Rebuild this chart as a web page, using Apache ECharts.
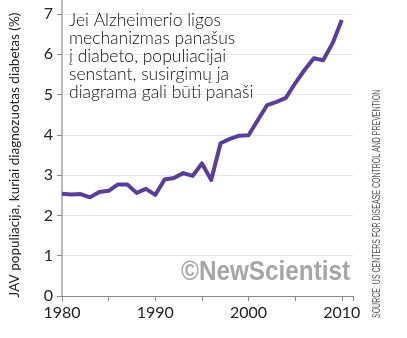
<!DOCTYPE html>
<html><head><meta charset="utf-8">
<script src="https://cdn.jsdelivr.net/npm/echarts@6/dist/echarts.min.js"></script>
<style>html,body{margin:0;padding:0;background:#fff}#c{width:407px;height:338px}</style>
</head><body><div id="c"></div>
<script>
const years = [1980,1981,1982,1983,1984,1985,1986,1987,1988,1989,1990,1991,1992,1993,1994,1995,1996,1997,1998,1999,2000,2001,2002,2003,2004,2005,2006,2007,2008,2009,2010];
const diabetesPct = [2.54,2.52,2.53,2.45,2.58,2.61,2.77,2.77,2.56,2.66,2.51,2.89,2.93,3.05,2.98,3.29,2.88,3.79,3.90,3.98,3.99,4.37,4.74,4.82,4.92,5.28,5.61,5.90,5.85,6.27,6.85];
const xTickLabels = [1980,1990,2000,2010];
const yTickLabels = [0,1,2,3,4,5,6,7];
const annotationLines = ['Jei Alzheimerio ligos','mechanizmas panašus','į diabeto, populiacijai','senstant, susirgimų ja','diagrama gali būti panaši'];
const yAxisTitle = 'JAV populiacija, kuriai diagnozuotas diabetas (%)';
const sourceText = 'SOURCE: US CENTERS FOR DISEASE CONTROL AND PREVENTION';
const watermark = '©NewScientist';

const chart = echarts.init(document.getElementById('c'), null, {renderer:'canvas'});
chart.setOption({
  animation:false,
  grid:{left:62,right:54,top:14,bottom:42},
  xAxis:{type:'value',min:1980,max:2011.2,interval:5,
    axisLine:{show:true,lineStyle:{color:'#8a8a8a',width:1}},
    axisTick:{show:true,length:5,lineStyle:{color:'#8a8a8a'}},
    axisLabel:{color:'#222',fontSize:16,fontFamily:'Lato',margin:9,
      formatter:v=>xTickLabels.includes(v)?String(v):''},
    splitLine:{show:false}},
  yAxis:{type:'value',min:0,max:7,interval:1,
    name:yAxisTitle,nameLocation:'middle',nameGap:40,
    nameTextStyle:{color:'#222',fontSize:13.5,fontFamily:'Lato'},
    axisLine:{show:true,lineStyle:{color:'#bbbbbb',width:2}},
    axisTick:{show:true,length:5,lineStyle:{color:'#8a8a8a'}},
    axisLabel:{color:'#222',fontSize:16,fontFamily:'Lato',margin:9,
      formatter:v=>yTickLabels.includes(v)?String(v):''},
    splitLine:{show:true,lineStyle:{color:'#e6e6e6',width:1}}},
  series:[{type:'line',data:years.map((y,i)=>[y,diabetesPct[i]]),
    symbol:'none',lineStyle:{color:'#5a3d9c',width:4,join:'round'},z:5}],
  graphic:[
    {type:'line',shape:{x1:62,y1:0,x2:62,y2:14},style:{stroke:'#bbbbbb',lineWidth:2},z:1},
    {type:'text',left:69,top:11,z:10,style:{text:annotationLines.join('\n'),fill:'#111',
      font:'300 17.5px Lato',lineHeight:18}},
    {type:'text',x:181,y:259,scaleX:0.9,z:1,style:{text:watermark,fill:'#a6a6a6',
      font:'bold 27px "Liberation Sans"'}},
    {type:'text',x:372,y:318,rotation:Math.PI/2,scaleX:0.7,z:10,style:{text:sourceText,fill:'#555',
      font:'10px "Liberation Sans"'}}
  ]
});
</script></body></html>
